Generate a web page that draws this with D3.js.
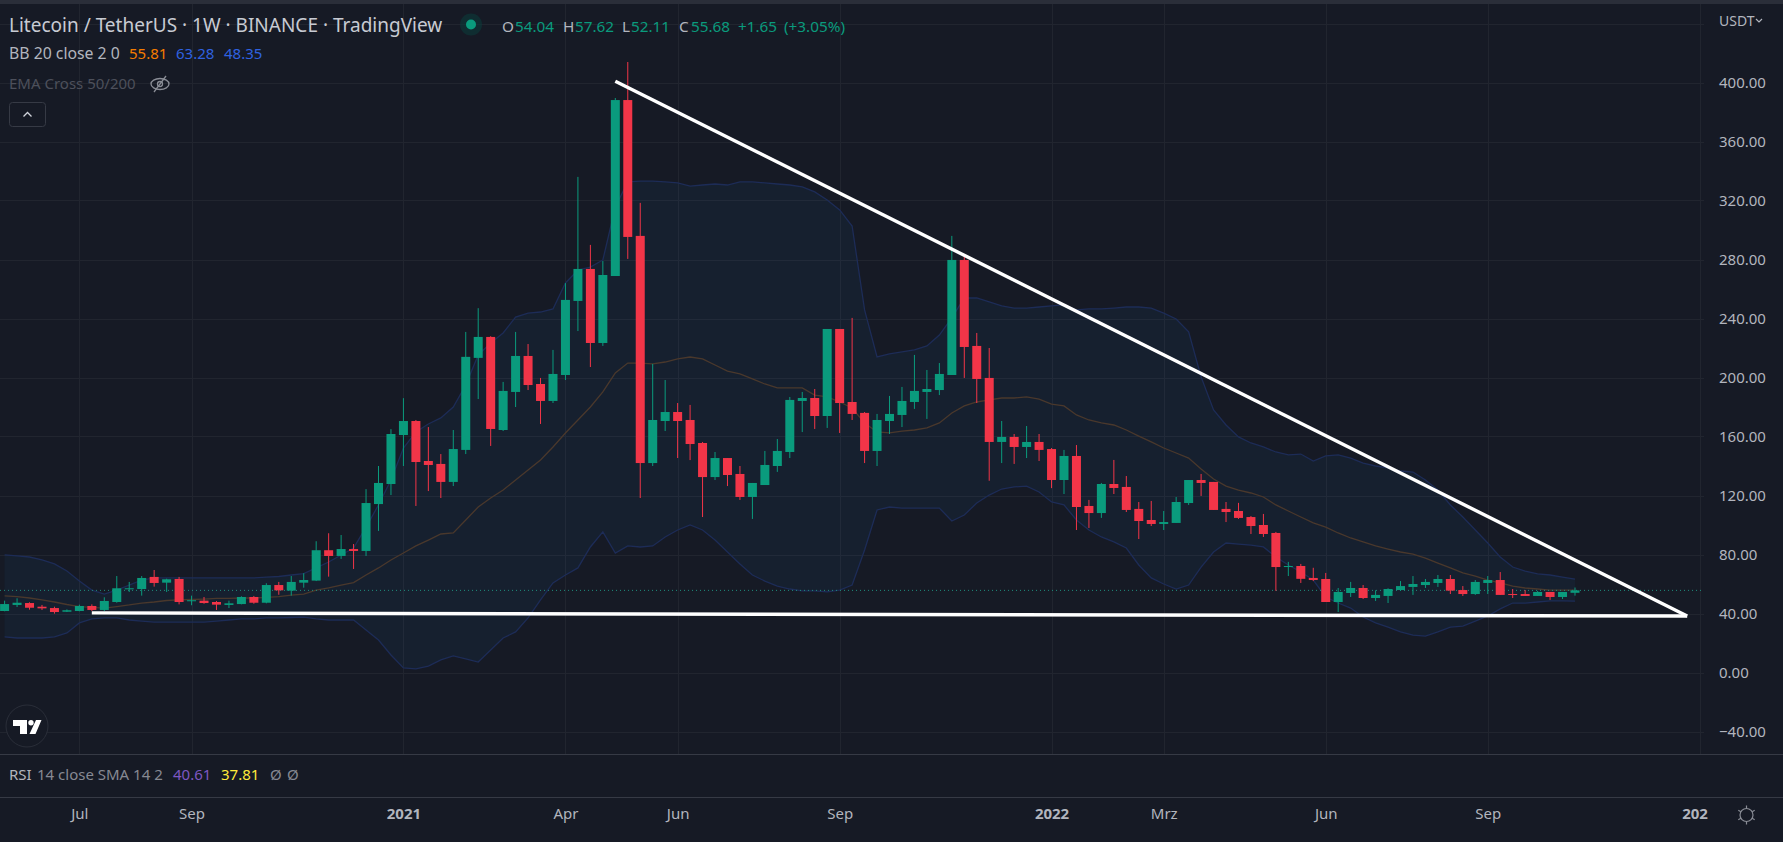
<!DOCTYPE html>
<html>
<head>
<meta charset="utf-8">
<title>Litecoin / TetherUS</title>
<script src="https://cdn.jsdelivr.net/npm/d3@7"></script>
<style>
	html,body{margin:0;padding:0;background:#161a25;overflow:hidden}
	svg{display:block}
	text{font-family:"Noto Sans",sans-serif}
</style>
</head>
<body>
<div id="chart"></div>
<script>
const opens = [41.7,45.8,47.1,44.6,43.7,41.2,41.7,45.1,42.4,47.8,56.4,56.6,64.8,60.9,63.4,48.3,48.7,47.8,45.8,46.4,51.2,47.3,59.3,55.5,60.9,62.3,82.9,79.0,83.7,82.4,114.2,127.8,161.0,170.5,143.4,141.4,129.2,150.9,213.3,227.5,164.4,190.2,214.6,195.6,184.1,201.7,251.9,273.6,223.4,268.8,388.1,296.0,142.0,170.5,176.6,171.2,155.6,132.5,145.4,134.6,119.0,127.1,140.0,149.5,184.1,186.1,173.9,232.9,183.4,176.0,150.2,170.5,174.6,183.4,190.2,191.5,201.7,279.7,221.4,199.7,156.3,159.7,152.9,156.3,151.5,130.5,146.8,112.9,108.1,127.8,125.8,110.9,103.4,100.7,101.4,114.9,130.5,129.2,110.9,109.5,105.4,100.0,94.6,71.5,72.2,64.1,63.4,47.8,53.9,57.3,50.5,51.9,55.9,58.0,59.3,60.7,63.4,55.9,53.2,60.7,62.7,53.2,53.2,51.9,54.6,51.2,54.04];
const highs = [48.7,50.3,47.6,45.8,44.6,42.8,46.0,46.2,51.0,65.4,61.4,65.4,69.5,63.6,64.8,52.1,51.2,48.5,48.7,51.7,51.9,60.5,61.4,65.4,67.3,89.0,94.4,93.2,87.1,124.3,140.0,165.0,186.0,171.2,166.4,148.1,164.4,230.9,247.0,228.0,197.0,230.9,222.7,199.7,218.7,264.0,336.0,289.9,279.0,389.5,413.9,318.4,209.2,198.3,182.7,181.4,156.3,149.5,145.4,140.0,128.5,150.2,158.3,186.8,190.2,192.2,232.9,232.9,240.4,176.6,175.3,187.5,193.6,215.3,205.1,209.8,296.0,282.4,230.2,220.0,170.5,161.7,167.1,161.7,152.2,150.9,154.2,117.0,128.5,144.1,133.2,115.6,116.3,109.5,119.0,130.5,134.6,129.2,115.6,115.0,106.1,107.5,95.3,75.0,73.6,71.0,67.5,57.3,61.4,59.3,55.7,57.1,62.0,65.4,63.4,66.1,66.1,58.6,62.7,65.4,68.1,56.6,55.9,55.3,54.6,54.6,57.62];
const lows = [41.5,44.4,42.6,42.4,39.9,41.0,41.5,41.7,41.7,47.3,54.6,52.1,58.2,54.6,46.2,45.6,46.6,42.4,43.7,46.2,46.6,46.9,52.7,52.1,57.5,62.0,65.0,77.0,70.2,79.0,96.0,120.3,140.0,112.9,123.0,118.3,126.4,148.1,185.4,153.6,163.7,180.0,191.5,168.5,182.7,198.3,231.5,207.1,221.4,268.8,280.4,118.3,140.0,163.7,145.4,144.0,105.4,130.5,126.4,117.0,104.1,127.1,136.0,145.4,163.0,165.1,165.8,162.4,171.2,142.0,140.0,161.7,166.4,178.7,171.9,188.1,201.7,199.7,182.7,130.0,142.0,141.4,145.4,143.4,125.0,121.0,96.6,98.0,104.8,121.0,108.8,90.5,99.3,96.6,101.4,113.6,119.7,110.2,102.0,104.1,93.9,91.9,55.3,65.4,60.7,62.0,47.8,41.0,51.2,49.8,48.5,47.1,55.3,52.6,57.3,58.0,53.2,51.9,52.6,53.2,52.6,50.5,51.9,51.9,49.2,49.8,52.11];
const closes = [46.4,47.3,43.9,43.5,41.0,42.2,45.1,42.4,48.5,57.1,57.1,64.1,60.7,63.2,47.8,49.0,47.1,46.0,46.9,51.2,47.3,59.3,55.7,61.4,62.7,82.9,79.0,83.7,82.4,114.9,128.5,161.7,170.5,142.7,140.7,129.2,151.5,214.0,227.5,165.1,190.9,214.6,194.9,184.1,202.4,252.6,273.6,223.4,269.5,388.1,295.3,142.0,171.2,176.6,170.5,154.9,132.5,145.4,133.9,119.0,128.5,140.7,150.2,184.8,186.1,173.9,232.9,182.7,175.3,150.2,171.2,175.3,184.1,190.9,192.2,202.4,279.7,220.7,199.0,156.3,159.7,152.9,156.3,150.9,130.5,146.8,112.2,108.1,127.8,125.1,110.2,102.7,100.7,102.0,115.6,130.5,128.5,110.2,108.8,104.8,99.3,93.9,71.5,72.2,63.5,62.7,47.8,54.6,57.3,50.5,52.6,56.6,58.6,60.0,61.4,63.4,55.5,53.2,61.4,62.7,52.6,52.9,51.9,54.6,51.2,54.6,55.68];

const bbUpper = [79.7,79.0,78.3,76.3,73.6,68.8,62.0,55.9,53.2,55.9,59.3,62.7,64.1,64.1,64.1,64.1,64.1,64.1,64.1,64.1,64.1,64.7,65.1,66.1,67.1,70.9,74.9,79.7,84.4,98.6,113.6,130.5,152.2,163.1,168.5,172.6,180.0,194.9,215.3,223.4,230.2,241.0,243.7,244.4,246.5,264.1,272.9,274.9,279.7,315.6,332.6,333.2,333.2,332.6,331.9,329.8,330.5,331.2,330.5,332.6,332.6,331.9,331.2,330.5,329.2,325.8,320.4,313.6,302.7,245.8,213.9,216.0,217.3,218.7,221.4,228.8,240.4,253.9,253.9,251.2,248.5,247.1,247.1,247.8,248.5,249.2,245.8,246.5,246.5,247.1,247.8,247.8,247.1,243.7,239.7,230.9,200.4,178.0,167.8,159.7,155.6,152.9,149.5,147.5,148.1,143.4,146.8,147.5,145.4,142.0,140.0,138.7,136.6,135.9,130.5,123.7,113.6,105.4,96.6,87.8,78.3,71.5,68.8,66.8,66.1,64.7,63.28];
const bbBasis = [51.9,51.5,50.5,49.2,47.8,46.1,44.7,44.1,43.7,44.7,45.8,47.1,47.8,48.8,49.2,49.5,49.8,50.2,50.2,50.5,50.5,50.9,51.5,52.5,53.2,55.9,57.3,59.3,61.0,66.1,70.9,76.3,81.0,85.8,89.8,93.9,94.6,103.4,112.2,118.3,123.7,130.5,137.3,144.1,152.9,162.4,171.2,180.0,190.2,203.1,209.8,209.8,209.2,210.5,212.6,213.9,212.6,208.5,204.4,202.4,199.0,195.6,192.9,192.9,192.9,188.1,186.8,183.4,179.3,169.2,163.1,162.4,163.7,164.4,165.8,169.2,175.9,180.7,183.4,184.8,186.1,186.1,186.8,185.4,182.0,180.7,174.6,171.2,169.2,167.8,164.4,160.3,156.3,152.2,148.8,145.4,138.0,131.2,126.4,123.7,121.7,119.0,113.6,109.5,105.4,101.4,98.6,94.6,91.2,88.5,85.8,83.7,81.7,80.3,77.6,74.2,70.9,67.5,65.4,62.7,60.7,58.6,57.3,56.6,55.9,55.9,55.81];
const bbLower = [24.1,23.4,23.4,23.4,24.1,26.8,33.6,36.3,37.0,37.0,35.6,34.9,34.2,34.2,34.2,34.2,34.2,34.9,35.6,36.3,36.3,37.0,37.0,37.3,37.6,36.3,35.6,35.6,35.6,28.8,22.0,11.9,3.1,2.4,4.4,8.5,11.2,9.2,7.1,15.3,23.4,27.5,37.0,49.2,60.7,66.1,70.9,85.1,95.3,81.0,85.8,85.1,85.8,91.9,96.6,100.0,96.6,89.8,81.7,73.6,66.1,62.0,58.6,56.6,55.3,55.3,54.6,55.9,59.3,83.1,110.2,112.2,111.5,111.5,111.5,111.5,102.7,106.8,114.9,120.3,124.4,125.8,126.4,122.4,115.6,113.6,103.4,96.6,91.9,88.5,84.4,72.9,64.1,60.0,56.6,59.3,71.5,81.7,87.8,87.1,86.4,85.1,78.3,72.9,68.1,62.7,51.2,47.1,43.7,37.6,33.6,30.8,27.5,25.4,24.7,27.5,30.8,31.5,34.9,38.3,43.1,47.1,47.1,47.8,48.5,48.5,48.35];

const priceTicks = [-40,0,40,80,120,160,200,240,280,320,360,400];
const gridPrices = [-40,0,40,80,120,160,200,240,280,320,360,400,440];
const xTickIdx = [6,15,32,45,54,67,84,93,106,119,136];
const xTickLabels = ["Jul","Sep","2021","Apr","Jun","Sep","2022","Mrz","Jun","Sep","202"];
const boldTicks = ["2021","2022","202"];
const lastClose = 55.68;
// drawn trend lines, [bar index, price]
const trendDown = [[49,400.9],[135,38.3]];
const trendFlat = [[7,40.4],[135,38.3]];

const W = 1783, H = 842, paneR = 1704, paneB = 754;
const col = {bg:"#161a25",grid:"#21252f",sep:"#363a45",txt:"#b2b5be",up:"#0a9b7d",dn:"#f23548"};

const X = d3.scaleLinear().domain([0,126]).range([4.6,1575]);
const Y = d3.scaleLinear().domain([-40,400]).range([731.5,82.5]);

const svg = d3.select("#chart").append("svg").attr("width",W).attr("height",H).attr("viewBox","0 0 "+W+" "+H);

svg.append("rect").attr("width",W).attr("height",H).attr("fill",col.bg);
svg.append("rect").attr("width",W).attr("height",4).attr("fill","#2a2e39");

svg.append("clipPath").attr("id","pane").append("rect").attr("x",0).attr("y",4).attr("width",paneR).attr("height",paneB-4);

// grid
svg.append("g").selectAll("line").data(gridPrices).enter().append("line")
	.attr("x1",0).attr("x2",paneR)
	.attr("y1",d=>Math.round(Y(d))+0.5).attr("y2",d=>Math.round(Y(d))+0.5)
	.attr("stroke",col.grid);
svg.append("g").selectAll("line").data(xTickIdx).enter().append("line")
	.attr("x1",d=>Math.round(X(d))+0.5).attr("x2",d=>Math.round(X(d))+0.5)
	.attr("y1",4).attr("y2",paneB)
	.attr("stroke",col.grid);

const chart = svg.append("g").attr("clip-path","url(#pane)");

// bollinger band
const band = d3.area().x((d,i)=>X(i)).y0((d,i)=>Y(bbLower[i])).y1((d,i)=>Y(bbUpper[i]));
chart.append("path").attr("d",band(bbUpper)).attr("fill","rgba(33,150,243,0.055)");

const line = d3.line().x((d,i)=>X(i)).y(d=>Y(d));
chart.append("path").attr("d",line(bbUpper)).attr("fill","none").attr("stroke","#1d2c57").attr("stroke-width",1.3);
chart.append("path").attr("d",line(bbLower)).attr("fill","none").attr("stroke","#1d2c57").attr("stroke-width",1.3);
chart.append("path").attr("d",line(bbBasis)).attr("fill","none").attr("stroke","#4a382c").attr("stroke-width",1.3);

// last price line
chart.append("line").attr("x1",0).attr("x2",paneR)
	.attr("y1",Y(lastClose)).attr("y2",Y(lastClose))
	.attr("stroke","#1f8f7f").attr("stroke-width",1).attr("stroke-dasharray","1 3");

// candles
const isUp = i=>closes[i]>=opens[i];
chart.append("g").selectAll("line").data(opens).enter().append("line")
	.attr("x1",(d,i)=>X(i)).attr("x2",(d,i)=>X(i))
	.attr("y1",(d,i)=>Y(highs[i])).attr("y2",(d,i)=>Y(lows[i]))
	.attr("stroke",(d,i)=>isUp(i)?col.up:col.dn).attr("stroke-width",1);
chart.append("g").selectAll("rect").data(opens).enter().append("rect")
	.attr("x",(d,i)=>X(i)-4.5).attr("width",9)
	.attr("y",(d,i)=>Y(Math.max(opens[i],closes[i])))
	.attr("height",(d,i)=>Math.max(1,Math.abs(Y(opens[i])-Y(closes[i]))))
	.attr("fill",(d,i)=>isUp(i)?col.up:col.dn);

// trend lines
const trend = d3.line().x(d=>X(d[0])).y(d=>Y(d[1]));
svg.append("path").attr("d",trend(trendDown)).attr("fill","none").attr("stroke","#fff").attr("stroke-width",3.4);
svg.append("path").attr("d",trend(trendFlat)).attr("fill","none").attr("stroke","#fff").attr("stroke-width",3.4);

// price axis
const yAxis = d3.axisRight(Y).tickValues(priceTicks).tickSize(0).tickPadding(0).tickFormat(d3.format(".2f"));
const gy = svg.append("g").attr("transform","translate(1719,0)").call(yAxis);
gy.select(".domain").remove();
gy.selectAll("text").attr("fill",col.txt).style("font-size","15px").attr("x",0);

// time axis
const xAxis = d3.axisBottom(X).tickValues(xTickIdx).tickSize(0).tickPadding(0).tickFormat((d,i)=>xTickLabels[i]);
svg.append("clipPath").attr("id","tclip").append("rect").attr("x",0).attr("y",797).attr("width",1709).attr("height",45);
const gx = svg.append("g").attr("clip-path","url(#tclip)").append("g").attr("transform","translate(0,808)").call(xAxis);
gx.select(".domain").remove();
gx.selectAll("text").attr("fill",col.txt).style("font-size","15px")
	.style("font-weight",function(){return boldTicks.includes(this.textContent)?700:400});
gx.selectAll(".tick").filter((d,i)=>xTickLabels[i]=="202").select("text").attr("text-anchor","start").attr("x",-18);

// pane separators
svg.append("line").attr("x1",0).attr("x2",W).attr("y1",754.5).attr("y2",754.5).attr("stroke",col.sep);
svg.append("line").attr("x1",0).attr("x2",W).attr("y1",797.5).attr("y2",797.5).attr("stroke",col.sep);

// legend texts
function label(x,y,s,fill,size,weight){
	return svg.append("text").attr("x",x).attr("y",y).text(s).attr("fill",fill)
		.style("font-size",size+"px").style("font-weight",weight||400);
}
label(9,32,"Litecoin / TetherUS · 1W · BINANCE · TradingView","#c8cbd3",19);
svg.append("circle").attr("cx",471).attr("cy",24.5).attr("r",11).attr("fill","#0b3a3a").attr("fill-opacity",0.6);
svg.append("circle").attr("cx",471).attr("cy",24.5).attr("r",5).attr("fill","#0a9b7d");
const ohlcLetters = [[502,"O"],[563,"H"],[622,"L"],[679,"C"]];
const ohlcValues = [[515,"54.04"],[575,"57.62"],[631,"52.11"],[691,"55.68"],[738,"+1.65"],[784,"(+3.05%)"]];
ohlcLetters.forEach(d=>label(d[0],32,d[1],col.txt,15.3));
ohlcValues.forEach(d=>label(d[0],32,d[1],"#0a9b7d",15.3));

label(9,59,"BB 20 close 2 0",col.txt,15.8);
label(129,59,"55.81","#f57c00",15);
label(176,59,"63.28","#2f62e0",15);
label(224,59,"48.35","#2f62e0",15);
label(9,89,"EMA Cross 50/200","#4d505b",15);

// hidden eye icon
const eye = svg.append("g").attr("transform","translate(160,84)").attr("fill","none").attr("stroke","#8a8d96").attr("stroke-width",1.3);
eye.append("ellipse").attr("rx",9).attr("ry",5.5);
eye.append("circle").attr("r",2.5);
eye.append("line").attr("x1",-6).attr("y1",8).attr("x2",6).attr("y2",-8);

// collapse button
svg.append("rect").attr("x",9.5).attr("y",102.5).attr("width",36).attr("height",24).attr("rx",3)
	.attr("fill","none").attr("stroke","#363a45");
svg.append("path").attr("d","M23.5 116.5l4-4 4 4").attr("fill","none").attr("stroke","#d1d4dc").attr("stroke-width",1.3);

// logo
svg.append("circle").attr("cx",27).attr("cy",726).attr("r",21).attr("fill",col.bg).attr("stroke","#2a2e39");
svg.append("path").attr("d","M13 720h14v14h-7v-8h-7zM36 720h5.5l-6 14h-6z").attr("fill","#fff");
svg.append("circle").attr("cx",31).attr("cy",722.7).attr("r",2.7).attr("fill","#fff");

// rsi row
label(9,780,"RSI",col.txt,15);
label(37,780,"14 close SMA 14 2","#868993",15);
label(173,780,"40.61","#7e57c2",15);
label(221,780,"37.81","#ffeb3b",15);
label(270,780,"Ø","#868993",15);
label(287,780,"Ø","#868993",15);

label(1719,26,"USDT",col.txt,14);
svg.append("path").attr("d","M1756 19l3 3 3-3").attr("fill","none").attr("stroke",col.txt).attr("stroke-width",1.2);

// settings gear
const gear = svg.append("g").attr("transform","translate(1746.5,815)").attr("fill","none").attr("stroke","#8a8d96").attr("stroke-width",1.2);
gear.append("circle").attr("r",6.5);
gear.selectAll("line").data(d3.range(6)).enter().append("line")
	.attr("y1",-6.5).attr("y2",-9.5).attr("transform",d=>"rotate("+d*60+")");
</script>
</body>
</html>
